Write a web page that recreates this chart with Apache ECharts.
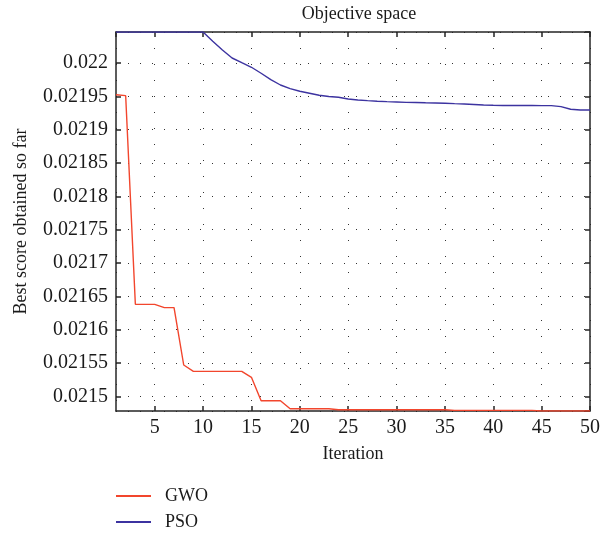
<!DOCTYPE html>
<html>
<head>
<meta charset="utf-8">
<script src="https://cdn.jsdelivr.net/npm/echarts@6/dist/echarts.min.js"></script>
<style>
html,body{margin:0;padding:0;background:#fff;}
#chart{width:603px;height:535px;}
</style>
</head>
<body>
<div id="chart"></div>
<script>
var iterations = [1,2,3,4,5,6,7,8,9,10,11,12,13,14,15,16,17,18,19,20,21,22,23,24,25,26,27,28,29,30,31,32,33,34,35,36,37,38,39,40,41,42,43,44,45,46,47,48,49,50];
var gwoValues = [0.0219524,0.021951,0.021638,0.021638,0.021638,0.021633,0.021633,0.021547,0.0215375,0.0215375,
  0.0215375,0.0215375,0.0215375,0.0215375,0.0215285,0.0214934,0.0214934,0.0214934,0.0214814,0.0214814,
  0.0214814,0.0214814,0.0214814,0.0214799,0.0214799,0.0214799,0.0214799,0.0214799,0.0214799,0.0214799,
  0.0214799,0.0214799,0.0214799,0.0214799,0.0214799,0.021479,0.021479,0.021479,0.021479,0.021479,
  0.021479,0.021479,0.021479,0.021479,0.021478,0.021478,0.021478,0.021478,0.021478,0.021478];
var psoValues = [0.0220465,0.0220465,0.0220465,0.0220465,0.0220465,0.0220465,0.0220465,0.0220465,0.0220465,0.0220465,
  0.0220326,0.0220195,0.0220075,0.0220005,0.0219936,0.0219846,0.021975,0.021967,0.0219615,0.0219576,
  0.0219546,0.0219516,0.0219498,0.0219486,0.021946,0.0219445,0.0219435,0.0219426,0.021942,0.0219415,
  0.021941,0.0219408,0.0219403,0.02194,0.0219396,0.021939,0.0219385,0.0219378,0.021937,0.0219366,
  0.0219363,0.0219363,0.0219363,0.0219363,0.021936,0.021936,0.0219345,0.0219306,0.0219295,0.0219295];
var seriesNames = ['GWO','PSO'];
var titleText = 'Objective space';
var xName = 'Iteration';
var yName = 'Best score obtained so far';
var yMin = 0.021478, yMax = 0.0220465;
var xMin = 1, xMax = 50;

var FONT = '"Liberation Serif", "DejaVu Serif", serif';
var AX = '#262626';
function pairs(vals){ return iterations.map(function(x,i){ return [x, vals[i]]; }); }
function yFmt(v){
  var k = v/0.00005;
  if (Math.abs(k - Math.round(k)) > 1e-4) return '';
  return String(parseFloat(v.toFixed(6)));
}
function xFmt(v){ return (Math.abs(v%5) < 1e-9) ? String(v) : ''; }
function legendBox(name, top){
  return {orient:'vertical',left:116,top:top,padding:0,itemWidth:35,itemHeight:2,icon:'rect',
    data:[name],selectedMode:false,
    textStyle:{fontFamily:FONT,fontSize:18,color:'#1a1a1a',padding:[0,0,0,9]}};
}

var chart = echarts.init(document.getElementById('chart'), null, {renderer:'canvas'});
chart.setOption({
  animation:false,
  backgroundColor:'#fff',
  title:{text:titleText,left:354,top:0,textAlign:'center',
    textStyle:{fontFamily:FONT,fontSize:18,fontWeight:'normal',color:'#1a1a1a'}},
  grid:{left:116,right:11,top:32,bottom:124,containLabel:false},
  legend:[legendBox(seriesNames[0],487), legendBox(seriesNames[1],513)],
  xAxis:[{
    type:'value',min:xMin,max:xMax,splitNumber:10,position:'bottom',
    name:xName,nameLocation:'middle',nameGap:34,
    nameTextStyle:{fontFamily:FONT,fontSize:18,color:'#1a1a1a'},
    axisLine:{show:true,onZero:false,lineStyle:{color:AX,width:1.5}},
    axisTick:{show:true,inside:true,length:5,lineStyle:{color:AX,width:1.5}},
    axisLabel:{formatter:xFmt,fontFamily:FONT,fontSize:20,color:'#1a1a1a',margin:7,showMinLabel:false},
    splitLine:{show:true,lineStyle:{color:'#333',width:1,type:[1,15]}}
  },{
    type:'value',min:xMin,max:xMax,splitNumber:10,position:'top',
    axisLine:{show:true,onZero:false,lineStyle:{color:AX,width:1.5}},
    axisTick:{show:true,inside:true,length:5,lineStyle:{color:AX,width:1.5}},
    axisLabel:{show:false},splitLine:{show:false}
  }],
  yAxis:[{
    type:'value',min:yMin,max:yMax,splitNumber:11,position:'left',
    name:yName,nameLocation:'middle',nameGap:86,nameRotate:90,
    nameTextStyle:{fontFamily:FONT,fontSize:18,color:'#1a1a1a'},
    axisLine:{show:true,onZero:false,lineStyle:{color:AX,width:1.5}},
    axisTick:{show:true,inside:true,length:5,lineStyle:{color:AX,width:1.5}},
    axisLabel:{formatter:yFmt,fontFamily:FONT,fontSize:20,color:'#1a1a1a',margin:8,showMinLabel:false,showMaxLabel:false},
    splitLine:{show:true,lineStyle:{color:'#333',width:1,type:[1,11]}}
  },{
    type:'value',min:yMin,max:yMax,splitNumber:11,position:'right',
    axisLine:{show:true,onZero:false,lineStyle:{color:AX,width:1.5}},
    axisTick:{show:true,inside:true,length:5,lineStyle:{color:AX,width:1.5}},
    axisLabel:{show:false},splitLine:{show:false}
  }],
  series:[{
    name:seriesNames[0],type:'line',data:pairs(gwoValues),xAxisIndex:0,yAxisIndex:0,
    showSymbol:false,symbol:'none',color:'#f2462d',lineStyle:{width:1.4,color:'#f2462d'},z:3
  },{
    name:seriesNames[1],type:'line',data:pairs(psoValues),xAxisIndex:0,yAxisIndex:0,
    showSymbol:false,symbol:'none',color:'#3c33a0',lineStyle:{width:1.4,color:'#3c33a0'},z:3
  }]
});
</script>
</body>
</html>
